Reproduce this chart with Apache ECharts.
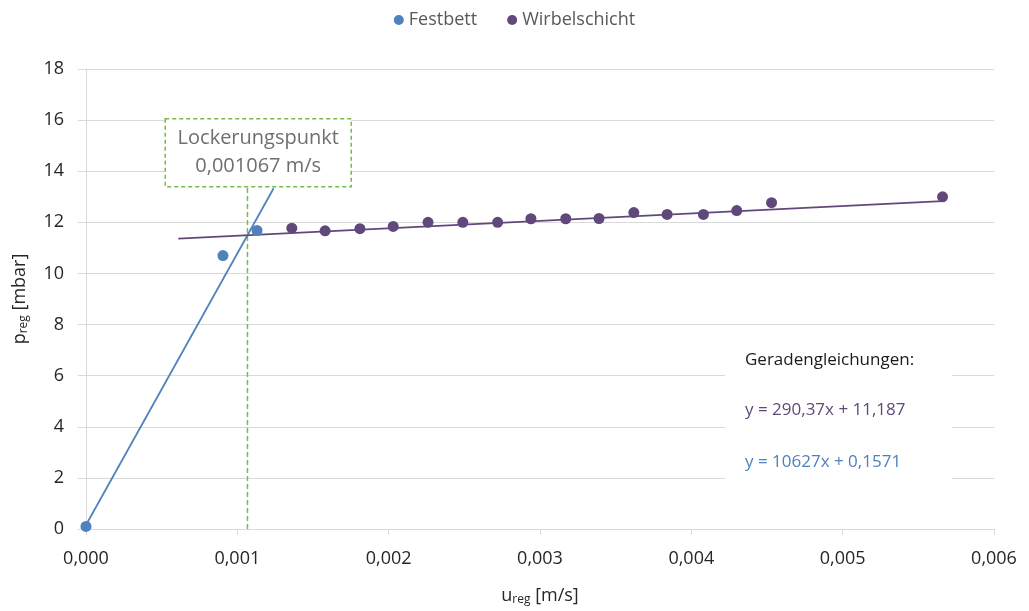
<!DOCTYPE html>
<html>
<head>
<meta charset="utf-8">
<script src="https://cdn.jsdelivr.net/npm/echarts@6/dist/echarts.min.js"></script>
<style>
  html, body { margin: 0; padding: 0; background: #fff; }
  #chart { width: 1029px; height: 611px; }
</style>
</head>
<body>
<div id="chart"></div>
<script>
// Festbett measurements (fixed bed)
const uFestbett = [0.0, 0.000905, 0.00113];
const pFestbett = [0.1, 10.7, 11.68];

// Wirbelschicht measurements (fluidised bed)
const uWirbel = [0.00136, 0.00158, 0.00181, 0.00203, 0.00226, 0.00249, 0.00272, 0.00294,
                 0.00317, 0.00339, 0.00362, 0.00384, 0.00408, 0.00430, 0.00453, 0.00566];
const pWirbel = [11.77, 11.67, 11.75, 11.84, 12.0, 12.0, 12.0, 12.14,
                 12.14, 12.15, 12.38, 12.31, 12.31, 12.46, 12.77, 13.0];

// Regression lines: slope, intercept, drawn range
const fitWirbel = { m: 290.37, b: 11.187, from: 0.00061, to: 0.00566 };
const fitFest = { m: 10627, b: 0.1571, from: 0.0, to: 0.00124 };

// Minimum fluidisation velocity
const uLockerung = 0.001067;
const lockerungTop = 13.42;

// Axis ticks
const xTicks = { min: 0, max: 0.006, step: 0.001 };
const yTicks = { min: 0, max: 18, step: 2 };

const BLUE = '#4f81bd';
const PURPLE = '#60497a';
const GREEN = '#77b94a';
const FONT = '"Open Sans", "Noto Sans", sans-serif';

const dec = (v, d) => v.toFixed(d).replace('.', ',');
const pairs = (xs, ys) => xs.map((x, i) => [x, ys[i]]);
const fitLine = f => [[f.from, f.m * f.from + f.b], [f.to, f.m * f.to + f.b]];
const eqText = f => 'y = ' + String(f.m).replace('.', ',') + 'x + ' + String(f.b).replace('.', ',');

const chart = echarts.init(document.getElementById('chart'), null, { renderer: 'canvas' });

const nameRich = {
  m: { fontSize: 18, color: '#262626', fontFamily: FONT },
  s: { fontSize: 12, color: '#262626', fontFamily: FONT, verticalAlign: 'bottom', padding: [9, 0, 0, 0] }
};

const option = {
  backgroundColor: '#fff',
  animation: false,
  textStyle: { fontFamily: FONT },
  legend: {
    data: ['Festbett', 'Wirbelschicht'],
    top: 6,
    left: 'center',
    icon: 'circle',
    itemWidth: 10,
    itemHeight: 10,
    itemGap: 30,
    textStyle: { color: '#595959', fontSize: 18, fontFamily: FONT }
  },
  grid: { left: 86, right: 35, top: 69, bottom: 82, containLabel: false, outerBoundsMode: 'none' },
  xAxis: {
    type: 'value',
    min: xTicks.min, max: xTicks.max, interval: xTicks.step,
    name: '{m|u}{s|reg}{m| [m/s]}',
    nameLocation: 'middle',
    nameGap: 56,
    nameTextStyle: { rich: nameRich },
    axisLine: { show: true, lineStyle: { color: '#d9d9d9', width: 1 } },
    axisTick: { show: true, length: 6, lineStyle: { color: '#d9d9d9' } },
    splitLine: { show: false },
    axisLabel: { color: '#262626', fontSize: 18, margin: 21, formatter: v => dec(v, 3) }
  },
  yAxis: {
    type: 'value',
    min: yTicks.min, max: yTicks.max, interval: yTicks.step,
    name: '{m|p}{s|reg}{m| [mbar]}',
    nameLocation: 'middle',
    nameGap: 56,
    nameRotate: 90,
    nameTextStyle: { rich: nameRich },
    axisLine: { show: true, lineStyle: { color: '#d9d9d9', width: 1 } },
    axisTick: { show: true, length: 8, lineStyle: { color: '#d9d9d9' } },
    splitLine: { show: true, lineStyle: { color: '#d9d9d9', width: 1 } },
    axisLabel: { color: '#262626', fontSize: 18, margin: 22 }
  },
  series: [
    {
      name: 'Lockerung',
      type: 'line',
      data: [[uLockerung, 0], [uLockerung, lockerungTop]],
      symbol: 'none',
      lineStyle: { color: GREEN, width: 1.5, type: [5, 3] },
      z: 1
    },
    {
      name: 'Fit Festbett',
      type: 'line',
      data: fitLine(fitFest),
      symbol: 'none',
      lineStyle: { color: BLUE, width: 1.75 },
      z: 2
    },
    {
      name: 'Fit Wirbelschicht',
      type: 'line',
      data: fitLine(fitWirbel),
      symbol: 'none',
      lineStyle: { color: PURPLE, width: 1.75 },
      z: 2
    },
    {
      name: 'Festbett',
      type: 'scatter',
      data: pairs(uFestbett, pFestbett),
      symbol: 'circle',
      symbolSize: 11,
      itemStyle: { color: BLUE, opacity: 1 },
      z: 3
    },
    {
      name: 'Wirbelschicht',
      type: 'scatter',
      data: pairs(uWirbel, pWirbel),
      symbol: 'circle',
      symbolSize: 11,
      itemStyle: { color: PURPLE, opacity: 1 },
      z: 3
    }
  ]
};

chart.setOption(option);

// Annotation boxes placed relative to the plotted coordinates
const anchor = chart.convertToPixel({ gridIndex: 0 }, [uLockerung, lockerungTop]);
const boxW = 186, boxH = 68;
const boxX = anchor[0] + 10 - boxW / 2;
const boxY = anchor[1] - boxH;

chart.setOption({
  graphic: [
    {
      type: 'group',
      left: boxX, top: boxY,
      children: [
        {
          type: 'rect',
          shape: { x: 0, y: 0, width: boxW, height: boxH },
          style: { fill: '#fff', stroke: GREEN, lineWidth: 1.5, lineDash: [4, 3] },
          z: 10
        },
        {
          type: 'text',
          x: boxW / 2, y: 20,
          style: { text: 'Lockerungspunkt', fill: '#6f6f6f', font: '20px ' + FONT, align: 'center', verticalAlign: 'middle' },
          z: 11
        },
        {
          type: 'text',
          x: boxW / 2, y: 48,
          style: { text: dec(uLockerung, 6) + ' m/s', fill: '#6f6f6f', font: '20px ' + FONT, align: 'center', verticalAlign: 'middle' },
          z: 11
        }
      ]
    },
    {
      type: 'group',
      left: 725, top: 345,
      children: [
        {
          type: 'rect',
          shape: { x: 0, y: 0, width: 227, height: 142 },
          style: { fill: '#fff' },
          z: 10
        },
        {
          type: 'text',
          x: 20, y: 15,
          style: { text: 'Geradengleichungen:', fill: '#1a1a1a', font: '17px ' + FONT, verticalAlign: 'middle' },
          z: 11
        },
        {
          type: 'text',
          x: 20, y: 65,
          style: { text: eqText(fitWirbel), fill: PURPLE, font: '17px ' + FONT, verticalAlign: 'middle' },
          z: 11
        },
        {
          type: 'text',
          x: 20, y: 117,
          style: { text: eqText(fitFest), fill: BLUE, font: '17px ' + FONT, verticalAlign: 'middle' },
          z: 11
        }
      ]
    }
  ]
});
</script>
</body>
</html>
